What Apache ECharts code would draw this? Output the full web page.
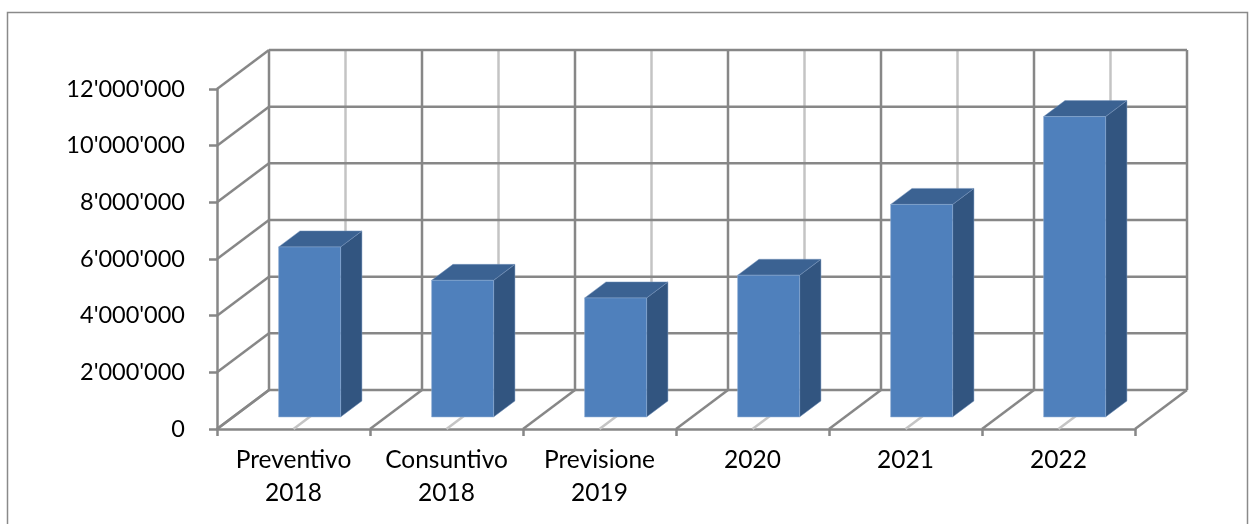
<!DOCTYPE html>
<html>
<head>
<meta charset="utf-8">
<script src="https://cdn.jsdelivr.net/npm/echarts@6/dist/echarts.min.js"></script>
<style>
html,body{margin:0;padding:0;background:#fff;}
#chart{width:1253px;height:524px;}
</style>
</head>
<body>
<div id="chart"></div>
<script>
const categories = ['Preventivo\n2018', 'Consuntivo\n2018', 'Previsione\n2019', '2020', '2021', '2022'];
const values = [6000000, 4820000, 4200000, 5000000, 7500000, 10600000];
const yTicks = [0, 2000000, 4000000, 6000000, 8000000, 10000000, 12000000];

const yMin = 0, yMax = 12000000, yStep = 2000000;
const DX = 52, DY = -39;          // oblique depth offset of the back wall
const D1 = 0.31, DD = 0.41;       // bar front depth / bar depth
const BAR_W = 0.405;              // bar face width as fraction of band
const DARK = '#878787', LIGHT = '#c4c4c4';
const FONT = 'Lato';

function fmt(v) {
  return String(v).replace(/\B(?=(\d{3})+(?!\d))/g, "'");
}

const chart = echarts.init(document.getElementById('chart'), null, {renderer: 'canvas'});

function line(x1, y1, x2, y2, color, w) {
  return {type: 'line', shape: {x1, y1, x2, y2}, style: {stroke: color, lineWidth: w}, silent: true};
}

const option = {
  animation: false,
  backgroundColor: '#fff',
  graphic: [{
    type: 'rect', z: -10,
    shape: {x: 7.5, y: 12.5, width: 1240, height: 530},
    style: {fill: 'none', stroke: '#8a8a8a', lineWidth: 1.5}
  }],
  grid: {left: 217, right: 118, top: 89, bottom: 95},
  xAxis: {
    type: 'category',
    data: categories,
    axisLine: {show: true, lineStyle: {color: DARK, width: 2.5}},
    axisTick: {show: true, length: 7, lineStyle: {color: DARK, width: 2.5}},
    axisLabel: {color: '#000', fontFamily: FONT, fontSize: 24.5, lineHeight: 33, margin: 15, interval: 0},
    splitLine: {show: false}
  },
  yAxis: {
    type: 'value',
    min: yMin, max: yMax, interval: yStep,
    axisLine: {show: true, lineStyle: {color: DARK, width: 2.5}},
    axisTick: {show: true, length: 8, lineStyle: {color: DARK, width: 2.5}},
    axisLabel: {color: '#000', fontFamily: FONT, fontSize: 23.5, margin: 32, formatter: fmt},
    splitLine: {show: false}
  },
  series: [
    {
      // back wall verticals + floor diagonals
      type: 'custom', z: 1, silent: true,
      data: categories.map((c, i) => [i, 0]),
      renderItem: function (params, api) {
        const i = api.value(0);
        const c = api.coord([i, yMin]);
        const yTop = api.coord([i, yMax])[1];
        const bw = api.size([1, 0])[0];
        const xL = c[0] - bw / 2;
        const y0 = c[1];
        const ch = [
          line(c[0] + DX, y0 + DY, c[0] + DX, yTop + DY, LIGHT, 2.5),
          line(c[0], y0, c[0] + DX, y0 + DY, LIGHT, 2.5),
          line(xL + DX, y0 + DY, xL + DX, yTop + DY, DARK, 2.5),
          line(xL, y0, xL + DX, y0 + DY, DARK, 2.5)
        ];
        if (i === categories.length - 1) {
          const xR = c[0] + bw / 2;
          ch.push(line(xR + DX, y0 + DY, xR + DX, yTop + DY, DARK, 2.5));
          ch.push(line(xR, y0, xR + DX, y0 + DY, DARK, 2.5));
        }
        return {type: 'group', children: ch};
      }
    },
    {
      // back wall horizontals + side wall diagonals
      type: 'custom', z: 2, silent: true,
      data: yTicks.map(v => [0, v]),
      renderItem: function (params, api) {
        const cs = params.coordSys;
        const y = api.coord([0, api.value(1)])[1];
        const L = cs.x, R = cs.x + cs.width;
        return {type: 'group', children: [
          line(L + DX, y + DY, R + DX, y + DY, DARK, 2.5),
          line(L, y, L + DX, y + DY, DARK, 2.5)
        ]};
      }
    },
    {
      // 3D bars
      type: 'custom', z: 5,
      data: values.map((v, i) => [i, v]),
      renderItem: function (params, api) {
        const i = api.value(0);
        const base = api.coord([i, yMin]);
        const top = api.coord([i, api.value(1)]);
        const bw = api.size([1, 0])[0];
        const w = bw * BAR_W;
        const fx = base[0] - w / 2 + DX * D1;
        const fyB = base[1] + DY * D1;
        const fyT = top[1] + DY * D1;
        const ox = DX * DD, oy = DY * DD;
        const edge = 'rgba(120,150,190,0.6)';
        return {type: 'group', children: [
          {type: 'polygon', shape: {points: [[fx + w, fyT], [fx + w + ox, fyT + oy], [fx + w + ox, fyB + oy], [fx + w, fyB]]},
           style: {fill: '#325580', stroke: edge, lineWidth: 0.8}},
          {type: 'polygon', shape: {points: [[fx, fyT], [fx + ox, fyT + oy], [fx + w + ox, fyT + oy], [fx + w, fyT]]},
           style: {fill: '#3b6292', stroke: edge, lineWidth: 0.8}},
          {type: 'rect', shape: {x: fx, y: fyT, width: w, height: fyB - fyT},
           style: {fill: '#4f80bc', stroke: 'rgba(140,170,210,0.7)', lineWidth: 0.8}}
        ]};
      }
    }
  ]
};
chart.setOption(option);
</script>
</body>
</html>
